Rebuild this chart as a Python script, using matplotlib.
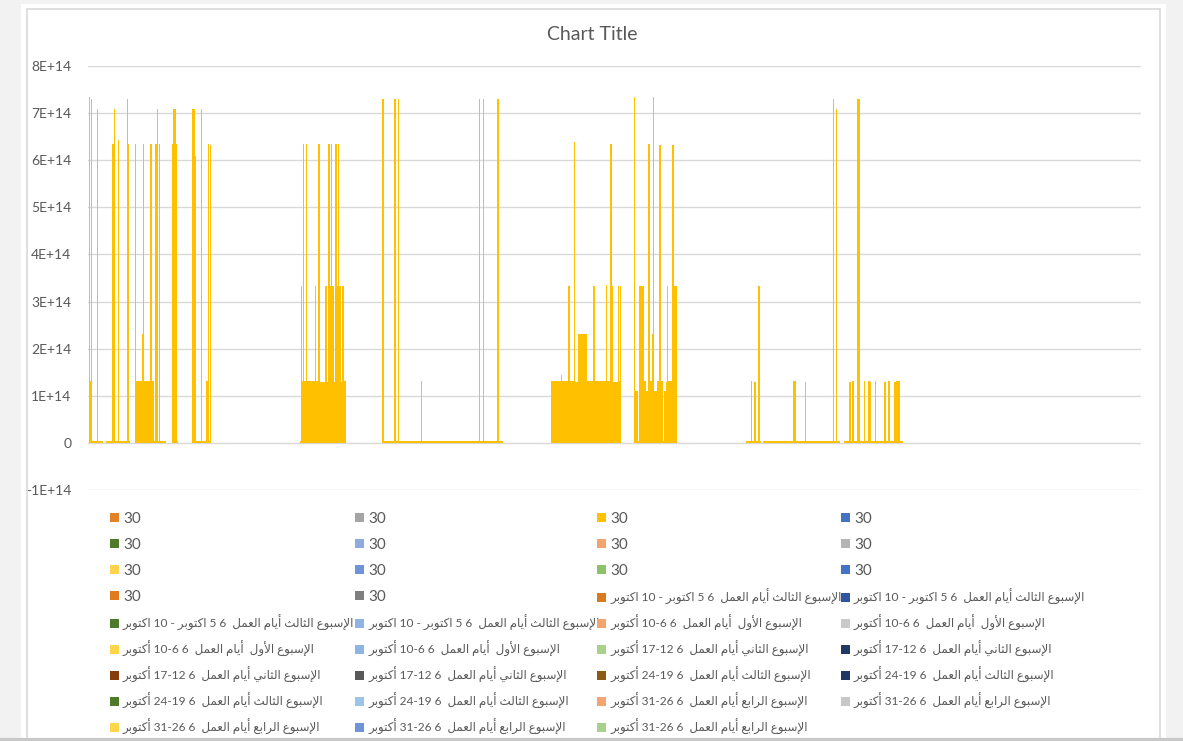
import numpy as np
import matplotlib
matplotlib.use("Agg")
import matplotlib.pyplot as plt
from matplotlib.patches import Patch, Rectangle
from matplotlib.lines import Line2D

W, H = 1183, 741

# bar heights (in 1E14) and how many adjacent categories share that height, read left to right
bar_heights = [
    7.35, 1.32, 7.31, 0.03, 7.09, 0.03, 0, 0.03, 6.35, 7.09, 0.03, 6.43, 0.03, 7.31, 6.35, 0.03, 0,
    6.35, 1.32, 2.31, 6.35, 1.32, 6.35, 1.32, 0.03, 6.35, 7.09, 0.03, 6.35, 0.03, 0,
    6.35, 7.09, 6.35, 0.03, 0, 7.09, 6.09, 0.03, 7.09, 0.03, 1.32, 6.35, 0.03, 6.33, 0,
    0.03, 3.33, 1.32, 6.35, 1.32, 6.35, 1.32, 3.33, 1.32, 6.35, 1.30, 3.33, 1.30, 6.35, 3.33,
    6.35, 3.33, 1.30, 6.35, 3.33, 6.35, 3.33, 1.30, 3.33, 1.32, 0,
    7.31, 0.03, 7.31, 0.03, 7.31, 0.03, 1.32, 0.03, 7.31, 0.03, 7.31, 0.03, 7.31, 0.03, 0,
    1.32, 1.44, 1.32, 3.33, 1.32, 6.38, 1.30, 2.31, 1.32, 3.33, 1.32, 3.35, 1.32, 6.35, 3.33,
    1.30, 3.33, 1.32, 3.33, 0,
    7.35, 1.10, 0.03, 3.33, 1.32, 1.10, 6.35, 1.32, 2.31, 7.35, 1.10, 1.32, 6.33, 1.32, 0.03,
    1.10, 1.30, 3.33, 1.32, 6.33, 3.33, 0,
    0.03, 1.32, 0.03, 1.30, 0.03, 3.33, 0.03, 0, 0.03, 1.32, 0.03, 1.30, 0.03, 7.31, 0.03,
    7.09, 0.03, 0, 0.03, 1.30, 0.03, 1.32, 0.03, 7.31, 0.03, 1.32, 0.03, 1.32, 1.30, 0.03,
    1.32, 0.03, 1.30, 0.03, 1.32, 0.03, 1.30, 1.32, 0.03,
]
bar_runs = [
    1, 1, 1, 5, 1, 5, 3, 6, 2, 1, 3, 1, 8, 1, 1, 1, 5,
    1, 6, 1, 1, 6, 2, 2, 1, 2, 1, 1, 1, 6, 6,
    1, 3, 1, 1, 14, 3, 1, 5, 1, 4, 2, 1, 1, 1, 89,
    1, 1, 1, 1, 2, 1, 8, 1, 2, 2, 5, 2, 1, 2, 1,
    1, 2, 1, 2, 1, 1, 2, 1, 2, 2, 36,
    2, 10, 2, 2, 1, 22, 1, 57, 1, 3, 1, 13, 2, 4, 48,
    10, 1, 6, 2, 4, 1, 3, 9, 6, 2, 11, 1, 3, 2, 1,
    5, 1, 1, 1, 13,
    1, 3, 1, 5, 2, 2, 2, 2, 1, 1, 3, 2, 2, 2, 1,
    2, 1, 1, 4, 2, 3, 69,
    5, 1, 2, 2, 2, 2, 1, 2, 30, 3, 9, 1, 27, 1, 2,
    1, 3, 4, 5, 2, 1, 2, 3, 3, 4, 1, 3, 2, 1, 4,
    1, 8, 2, 2, 2, 4, 2, 4, 3,
]
n_categories = 1052

y_ticks = [-1e14, 0, 1e14, 2e14, 3e14, 4e14, 5e14, 6e14, 7e14, 8e14]
y_tick_labels = ["-1E+14", "0", "1E+14", "2E+14", "3E+14", "4E+14", "5E+14", "6E+14", "7E+14", "8E+14"]

lbl_w3a = "الإسبوع الثالث أيام العمل  6 5 اكتوبر - 10 اكتوبر"
lbl_w1 = "الإسبوع الأول  أيام العمل  6 10-6 أكتوبر"
lbl_w2 = "الإسبوع الثاني أيام العمل  6 17-12 أكتوبر"
lbl_w3b = "الإسبوع الثالث أيام العمل  6 24-19 أكتوبر"
lbl_w4 = "الإسبوع الرابع أيام العمل  6 31-26 أكتوبر"

legend_labels = ["30"] * 14 + [lbl_w3a] * 4 + [lbl_w1] * 4 + [lbl_w2] * 4 + [lbl_w3b] * 4 + [lbl_w4] * 5
legend_colors = [
    "#E0832A", "#A5A5A5", "#FFC000", "#4472C4",
    "#4F7A28", "#8FAADC", "#F4A46E", "#B4B4B4",
    "#FFD34F", "#6F93D6", "#8CC36A", "#4472C4",
    "#E07B1F", "#7F7F7F", "#D97A1E", "#2F55A0",
    "#4E7A2E", "#8FB4E3", "#F4A56E", "#C9C9C9",
    "#FFD54A", "#8EB4E3", "#A9D18E", "#203864",
    "#843C0C", "#595959", "#8B5A16", "#1F3864",
    "#4F7A28", "#9DC3E6", "#F4A46E", "#C8C8C8",
    "#FFD54A", "#6F93D6", "#A9D18E",
]

# --- tiny arabic shaper: (isolated, final, initial, medial) presentation forms
FORMS = {
    "ا": ("\uFE8D", "\uFE8E", None, None),
    "أ": ("\uFE83", "\uFE84", None, None),
    "إ": ("\uFE87", "\uFE88", None, None),
    "ب": ("\uFE8F", "\uFE90", "\uFE91", "\uFE92"),
    "ت": ("\uFE95", "\uFE96", "\uFE97", "\uFE98"),
    "ث": ("\uFE99", "\uFE9A", "\uFE9B", "\uFE9C"),
    "ر": ("\uFEAD", "\uFEAE", None, None),
    "س": ("\uFEB1", "\uFEB2", "\uFEB3", "\uFEB4"),
    "ع": ("\uFEC9", "\uFECA", "\uFECB", "\uFECC"),
    "ك": ("\uFED9", "\uFEDA", "\uFEDB", "\uFEDC"),
    "ل": ("\uFEDD", "\uFEDE", "\uFEDF", "\uFEE0"),
    "م": ("\uFEE1", "\uFEE2", "\uFEE3", "\uFEE4"),
    "ن": ("\uFEE5", "\uFEE6", "\uFEE7", "\uFEE8"),
    "و": ("\uFEED", "\uFEEE", None, None),
    "ي": ("\uFEF1", "\uFEF2", "\uFEF3", "\uFEF4"),
}
LAM_ALEF = {"ا": ("\uFEFB", "\uFEFC"), "أ": ("\uFEF7", "\uFEF8"), "إ": ("\uFEF9", "\uFEFA")}


def shape_word(word):
    units = []
    i = 0
    while i < len(word):
        if word[i] == "ل" and i + 1 < len(word) and word[i + 1] in LAM_ALEF:
            units.append(("LA", word[i + 1]))
            i += 2
        else:
            units.append(word[i])
            i += 1
    out = []
    for k, u in enumerate(units):
        prev = units[k - 1] if k > 0 else None
        nxt = units[k + 1] if k + 1 < len(units) else None
        prev_joins = isinstance(prev, str) and prev in FORMS and FORMS[prev][2] is not None
        if isinstance(u, tuple):
            iso, fin = LAM_ALEF[u[1]]
            out.append(fin if prev_joins else iso)
            continue
        if u not in FORMS:
            out.append(u)
            continue
        iso, fin, ini, med = FORMS[u]
        next_joins = nxt is not None and (isinstance(nxt, tuple) or nxt in FORMS) and ini is not None
        if prev_joins and next_joins:
            out.append(med)
        elif prev_joins:
            out.append(fin)
        elif next_joins:
            out.append(ini)
        else:
            out.append(iso)
    return "".join(reversed(out))


def rtl(text):
    # reverse word order for right-to-left display, shape arabic words
    tokens = text.split(" ")
    vis = []
    for t in reversed(tokens):
        if any(c in FORMS for c in t):
            vis.append(shape_word(t))
        else:
            vis.append(t)
    return " ".join(vis)


plt.rcParams["font.family"] = ["Lato", "DejaVu Sans"]

fig = plt.figure(figsize=(W / 100, H / 100), dpi=100)
fig.patch.set_facecolor("#F2F2F2")
fig.add_artist(Rectangle((21 / W, 0), (1166 - 21) / W, 1 - 4 / H, transform=fig.transFigure,
                         facecolor="white", edgecolor="none", zorder=-5))
fig.add_artist(Rectangle((26.5 / W, -0.01), (1159.5 - 26.5) / W, 1 - 9 / H + 0.01, transform=fig.transFigure,
                         facecolor="none", edgecolor="#D9D9D9", linewidth=1.2, zorder=-4))
fig.add_artist(Line2D([0, 1], [1.5 / H, 1.5 / H], transform=fig.transFigure, color="#C8C8C8", linewidth=3))

ax = fig.add_axes([88 / W, 1 - 490 / H, (1141 - 88) / W, (490 - 66) / H])
values = np.repeat(bar_heights, bar_runs) * 1e14
xs = np.arange(len(values))
ax.bar(xs, values, width=1, align="edge", color="#FFC000", linewidth=0, antialiased=False, zorder=3)

ax.set_xlim(-1, n_categories)
ax.set_ylim(-1e14, 8e14)
ax.set_yticks(y_ticks)
ax.set_yticklabels(y_tick_labels)
ax.set_xticks([])
ax.tick_params(axis="y", length=0, pad=12, labelsize=10, labelcolor="#595959")
ax.grid(axis="y", color="#D9D9D9", linewidth=1)
ax.set_axisbelow(True)
for s in ax.spines.values():
    s.set_visible(False)
ax.set_facecolor("none")

fig.text(592 / W, 1 - 35 / H, "Chart Title", ha="center", va="center", fontsize=14, color="#595959")

# legend: excel fills row by row, 4 columns; one small legend per entry keeps the grid exact
col_x = [110, 355, 597, 841]
row_y0, row_step = 519, 26
for i, (lab, col) in enumerate(zip(legend_labels, legend_colors)):
    r, c = divmod(i, 4)
    is_num = lab == "30"
    fs = 11 if is_num else 8.6
    text = lab if is_num else rtl(lab)
    fig.legend([Patch(facecolor=col, edgecolor="none")], [text], loc="center left",
               bbox_to_anchor=(col_x[c] / W, 1 - (row_y0 + r * row_step) / H),
               frameon=False, borderpad=0, borderaxespad=0,
               handlelength=9 / (fs * 100 / 72), handleheight=9 / (fs * 100 / 72),
               handletextpad=4 / (fs * 100 / 72), fontsize=fs, labelcolor="#595959")

fig.savefig("out.png", dpi=100)
